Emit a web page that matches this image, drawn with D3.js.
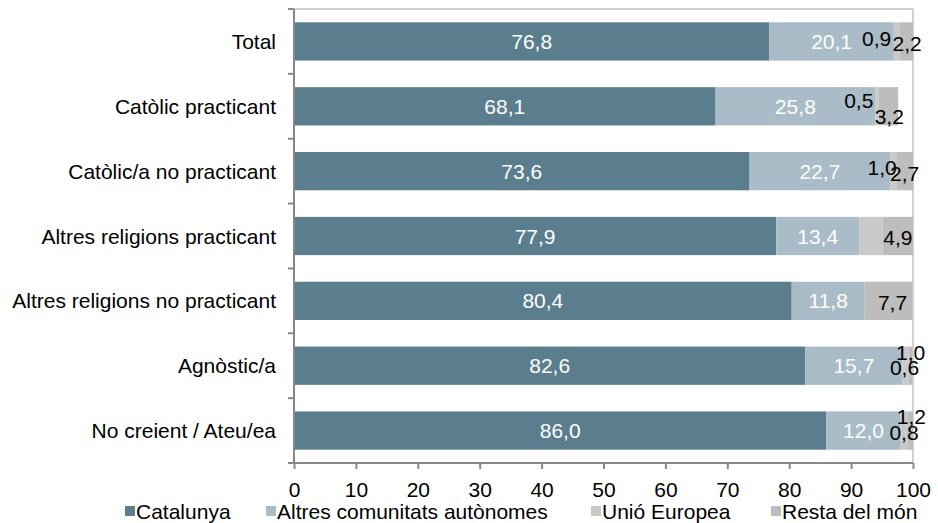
<!DOCTYPE html>
<html>
<head>
<meta charset="utf-8">
<script src="https://cdn.jsdelivr.net/npm/d3@7/dist/d3.min.js"></script>
<style>
  html, body { margin: 0; padding: 0; background: #fff; }
  svg { display: block; font-family: "Liberation Sans", Arial, sans-serif; }
</style>
</head>
<body>
<svg id="chart" width="938" height="523"></svg>
<script>
// ---- data ----
const categories = ["Total", "Catòlic practicant", "Catòlic/a no practicant",
  "Altres religions practicant", "Altres religions no practicant", "Agnòstic/a",
  "No creient / Ateu/ea"];
const seriesNames = ["Catalunya", "Altres comunitats autònomes", "Unió Europea", "Resta del món"];
const catalunya = [76.8, 68.1, 73.6, 77.9, 80.4, 82.6, 86.0];
const altresCA  = [20.1, 25.8, 22.7, 13.4, 11.8, 15.7, 12.0];
const unioEuropea = [0.9, 0.5, 1.0, 3.8, 0, 1.0, 1.2];
const restaMon  = [2.2, 3.2, 2.7, 4.9, 7.7, 0.6, 0.8];
// labels shown in the chart (null = not labelled)
const unioEuropeaLabels = [0.9, 0.5, 1.0, null, null, 1.0, 1.2];
const xTicks = [0, 10, 20, 30, 40, 50, 60, 70, 80, 90, 100];

// ---- styling / layout ----
const colors = ["#5b7e8f", "#a9bcc8", "#c9c9c9", "#bdbdbd"];
const labelColors = ["#ffffff", "#ffffff", "#000000", "#000000"];
const FS = 21;
// manual nudges for crowded small labels [dx, dy] keyed "row-series"
const nudges = {
  "0-2": [-20, -3], "0-3": [1, 2],
  "1-2": [-18, -6], "1-3": [1, 10],
  "2-2": [-11, -4], "2-3": [0, 2],
  "3-3": [0, 1],
  "4-3": [4, 2],
  "5-2": [5, -13], "5-3": [-6, 2],
  "6-2": [7, -14], "6-3": [-6.5, 2]
};
const seriesData = [catalunya, altresCA, unioEuropea, restaMon];
const seriesLabels = [catalunya, altresCA, unioEuropeaLabels, restaMon];

const margin = { left: 294, right: 25, top: 9, bottom: 60 };
const W = 938, H = 523;
const svg = d3.select("#chart");

const x = d3.scaleLinear().domain([0, 100]).range([margin.left, W - margin.right]);
const y = d3.scaleBand().domain(categories).range([margin.top, H - margin.bottom]).paddingInner(0.41).paddingOuter(0.205);

const rows = categories.map((c, i) => {
  const o = { cat: c };
  seriesNames.forEach((s, j) => o[s] = seriesData[j][i]);
  return o;
});
const stacked = d3.stack().keys(seriesNames)(rows);

// frame lines (top + right)
svg.append("line").attr("x1", x(0)).attr("x2", x(100)).attr("y1", margin.top).attr("y2", margin.top)
  .attr("stroke", "#c3c3c3").attr("stroke-width", 1.5);
svg.append("line").attr("x1", x(100)).attr("x2", x(100)).attr("y1", margin.top).attr("y2", H - margin.bottom)
  .attr("stroke", "#c3c3c3").attr("stroke-width", 1.5);

// bars
stacked.forEach((layer, j) => {
  svg.append("g").selectAll("rect").data(layer).join("rect")
    .attr("x", d => x(d[0]))
    .attr("width", d => Math.max(0, x(d[1]) - x(d[0])))
    .attr("y", d => y(d.data.cat))
    .attr("height", y.bandwidth())
    .attr("fill", colors[j]);
});

// labels
const fmt = v => v.toFixed(1).replace(".", ",");
stacked.forEach((layer, j) => {
  layer.forEach((d, i) => {
    const lab = seriesLabels[j][i];
    if (lab == null || seriesData[j][i] === 0) return;
    const nd = nudges[i + "-" + j] || [0, 0];
    svg.append("text")
      .attr("x", (x(d[0]) + x(d[1])) / 2 + nd[0])
      .attr("y", y(d.data.cat) + y.bandwidth() / 2 + nd[1])
      .attr("text-anchor", "middle")
      .attr("dominant-baseline", "central")
      .attr("font-size", FS)
      .attr("fill", labelColors[j])
      .text(fmt(lab));
  });
});

// y axis
const yAxisG = svg.append("g");
yAxisG.append("line").attr("x1", x(0)).attr("x2", x(0)).attr("y1", margin.top).attr("y2", H - margin.bottom)
  .attr("stroke", "#878787").attr("stroke-width", 2);
const bounds = d3.range(categories.length + 1).map(k => margin.top + k * (H - margin.bottom - margin.top) / categories.length);
yAxisG.selectAll("line.tk").data(bounds).join("line").attr("class", "tk")
  .attr("x1", x(0) - 6).attr("x2", x(0)).attr("y1", d => d).attr("y2", d => d)
  .attr("stroke", "#878787").attr("stroke-width", 2);
yAxisG.selectAll("text").data(categories).join("text")
  .attr("x", x(0) - 18)
  .attr("y", d => y(d) + y.bandwidth() / 2)
  .attr("text-anchor", "end").attr("dominant-baseline", "central")
  .attr("font-size", FS).attr("fill", "#000")
  .text(d => d);

// x axis
const xAxis = d3.axisBottom(x).tickValues(xTicks).tickSize(6).tickPadding(13).tickFormat(d3.format("d"));
const xg = svg.append("g").attr("transform", `translate(0,${H - margin.bottom})`).call(xAxis);
xg.select(".domain").attr("stroke", "#878787").attr("stroke-width", 2).attr("d", `M${x(0) - 6},0H${x(100)}`);
xg.selectAll(".tick line").attr("stroke", "#878787").attr("stroke-width", 2);
xg.selectAll(".tick text").attr("font-size", FS).attr("fill", "#000").attr("font-family", "Liberation Sans, Arial, sans-serif");

// legend
const legendX = [125, 266, 591, 771];
const lg = svg.append("g").attr("transform", "translate(0,511)");
seriesNames.forEach((s, j) => {
  lg.append("rect").attr("x", legendX[j]).attr("y", -5).attr("width", 10).attr("height", 10).attr("fill", colors[j]);
  lg.append("text").attr("x", legendX[j] + 11).attr("y", 0).attr("dominant-baseline", "central")
    .attr("font-size", FS).attr("fill", "#000").text(s);
});
</script>
</body>
</html>
